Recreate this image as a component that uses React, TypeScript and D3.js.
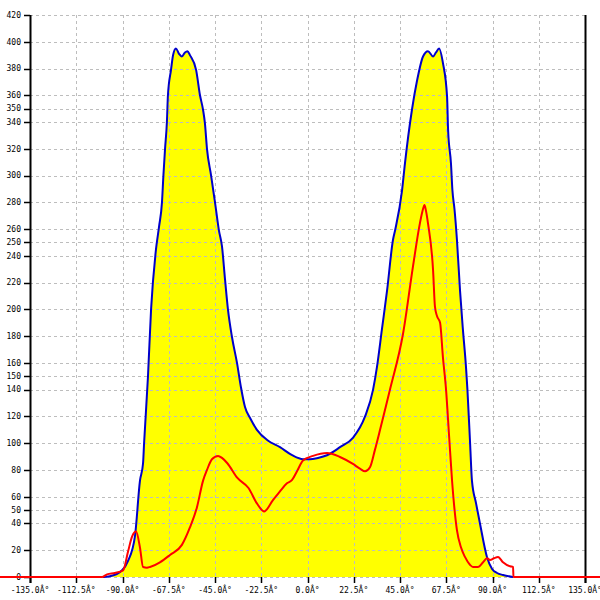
import React from "react";
import * as d3 from "d3";

const xTicks = [-135, -112.5, -90, -67.5, -45, -22.5, 0, 22.5, 45, 67.5, 90, 112.5, 135];
const yTicks = [0, 20, 40, 50, 60, 80, 100, 120, 140, 150, 160, 180, 200, 220, 240, 250, 260, 280, 300, 320, 340, 350, 360, 380, 400, 420];

const blueAngles = [
  -99.5, -96.1, -90.2, -87.3, -83.9, -81.5, -80.0, -79.5, -77.6, -76.1, -73.7, -72.2, -70.8, -70.1, -69.3, -68.4, -67.9,
  -66.4, -65.4, -64.0, -62.5, -61.1, -59.6, -58.4, -57.2, -54.2, -52.3, -50.8, -49.9, -48.9, -46.9, -45.0, -43.1, -41.6,
  -40.1, -38.7, -36.7, -34.3, -32.4, -30.4, -28.0, -24.6, -19.3, -13.4, -7.5, -2.2, 1.2, 5.1, 9.5, 15.8, 22.1, 28.0,
  31.9, 33.8, 36.2, 38.7, 41.6, 42.6, 46.0, 47.4, 50.8, 53.3, 56.2, 58.6, 61.1, 62.5, 64.0, 65.9, 67.9, 68.4, 69.8,
  70.5, 71.5, 72.7, 74.2, 75.6, 77.1, 77.8, 79.1, 80.0, 82.0, 83.9, 87.3, 89.8, 92.2, 95.1, 100.0,
];
const blueValues = [
  0, 0.5, 5, 12, 31, 72, 85, 100, 150, 200, 245, 262, 280, 300, 320, 340, 360,
  379, 390, 395, 391, 389, 392, 393, 390, 379, 360, 349, 339, 320, 300, 280, 259, 247,
  222, 200, 179, 160, 142, 127, 119, 110, 102, 97, 91, 88, 88, 89, 91, 97, 104, 120,
  140, 157, 185, 214, 252, 259, 289, 309, 349, 371, 389, 393, 389, 392, 395, 384, 359, 334, 309,
  289, 275, 252, 214, 185, 157, 140, 100, 72, 55, 40, 15, 6, 3, 1.5, 0,
];

const redAngles = [
  -180, -100.0, -97.5, -93.7, -89.7, -87.3, -85.4, -83.4, -81.5, -80.0, -78.1, -76.6, -71.8, -66.9, -61.1, -57.2, -53.8,
  -50.8, -48.9, -46.5, -43.5, -41.6, -39.0, -34.1, -28.7, -24.6, -21.1, -16.8, -13.4, -10.0, -7.5, -5.1, -2.2, 2.7, 9.5,
  15.8, 22.1, 25.5, 28.0, 30.4, 32.8, 35.3, 38.2, 40.1, 46.5, 51.3, 54.7, 56.2, 56.9, 57.6, 58.6, 61.1, 62.0, 63.0,
  64.5, 65.9, 67.4, 68.9, 70.3, 72.7, 74.7, 76.6, 79.1, 80.5, 82.9, 85.4, 87.3, 88.8, 90.7, 92.7, 95.1, 98.5, 100.0,
  100.2, 180,
];
const redValues = [
  0, 0, 2, 3, 5, 19, 30, 34, 22, 7.5, 7, 7.5, 11, 16.5, 24, 37, 52,
  72, 80, 88, 90.5, 89, 85, 74, 66.5, 55, 49, 57.5, 64, 70, 72.5, 79, 87, 90.5, 92.7,
  89.7, 84.5, 81, 79, 82, 95, 110, 128, 140, 182, 232, 264.5, 275, 278, 274, 264.5, 229, 202, 195,
  190, 164, 140, 105, 72.5, 35, 22, 15, 9, 7.5, 7.5, 11, 14, 12.7, 14, 15, 11, 8, 7.5,
  0, 0,
];

const W = 600;
const H = 600;
const left = 30;
const right = 585;
const top = 15;
const bottom = 577;

export default function App() {
  const x = d3.scaleLinear().domain([-135, 135]).range([left, right]);
  const y = d3.scaleLinear().domain([0, 420]).range([bottom, top]);

  const blue = blueAngles.map((a, i) => [a, blueValues[i]] as [number, number]);
  const red = redAngles.map((a, i) => [a, redValues[i]] as [number, number]);

  const area = d3
    .area<[number, number]>()
    .curve(d3.curveMonotoneX)
    .x((d) => x(d[0]))
    .y0(y(0))
    .y1((d) => y(d[1]));
  const line = d3
    .line<[number, number]>()
    .curve(d3.curveMonotoneX)
    .x((d) => x(d[0]))
    .y((d) => y(d[1]));

  const font = "'DejaVu Sans Mono', monospace";
  const fmt = (d: number) => d.toFixed(1) + "Â°";

  return (
    <svg
      width={W}
      height={H}
      style={{ position: "absolute", left: 0, top: 0, background: "#fff" }}
    >
      <rect x={0} y={0} width={W} height={H} fill="#fff" />
      <path d={area(blue) || ""} fill="#ffff00" stroke="none" />
      {yTicks.map((t) => (
        <line
          key={"gy" + t}
          x1={left}
          x2={right}
          y1={Math.round(y(t)) + 0.5}
          y2={Math.round(y(t)) + 0.5}
          stroke="#bdbdbd"
          strokeDasharray="3,3"
          strokeWidth={1}
        />
      ))}
      {xTicks.map((t) => (
        <line
          key={"gx" + t}
          x1={Math.round(x(t)) + 0.5}
          x2={Math.round(x(t)) + 0.5}
          y1={top}
          y2={bottom}
          stroke="#bdbdbd"
          strokeDasharray="3,3"
          strokeWidth={1}
        />
      ))}
      <line x1={left + 0.5} x2={left + 0.5} y1={top} y2={bottom + 6} stroke="#000" strokeWidth={2} />
      <line x1={right + 0.5} x2={right + 0.5} y1={top} y2={bottom + 6} stroke="#000" strokeWidth={2} />
      {yTicks.map((t) => (
        <g key={"ty" + t}>
          <line x1={left - 6} x2={left} y1={Math.round(y(t)) + 0.5} y2={Math.round(y(t)) + 0.5} stroke="#000" strokeWidth={1.5} />
          <text
            x={left - 9}
            y={y(t)}
            dy="0.35em"
            textAnchor="end"
            fontFamily={font}
            fontSize={8}
            fill="#000"
          >
            {t}
          </text>
        </g>
      ))}
      {xTicks.map((t) => (
        <g key={"tx" + t}>
          <line x1={Math.round(x(t)) + 0.5} x2={Math.round(x(t)) + 0.5} y1={bottom} y2={bottom + 6} stroke="#000" strokeWidth={1.5} />
          <text
            x={x(t)}
            y={593}
            textAnchor="middle"
            fontFamily={font}
            fontSize={8}
            fill="#000"
          >
            {fmt(t)}
          </text>
        </g>
      ))}
      <path d={line(blue) || ""} fill="none" stroke="#0000cc" strokeWidth={2} strokeLinejoin="round" />
      <path d={line(red) || ""} fill="none" stroke="#ff0000" strokeWidth={2} strokeLinejoin="round" />
    </svg>
  );
}
